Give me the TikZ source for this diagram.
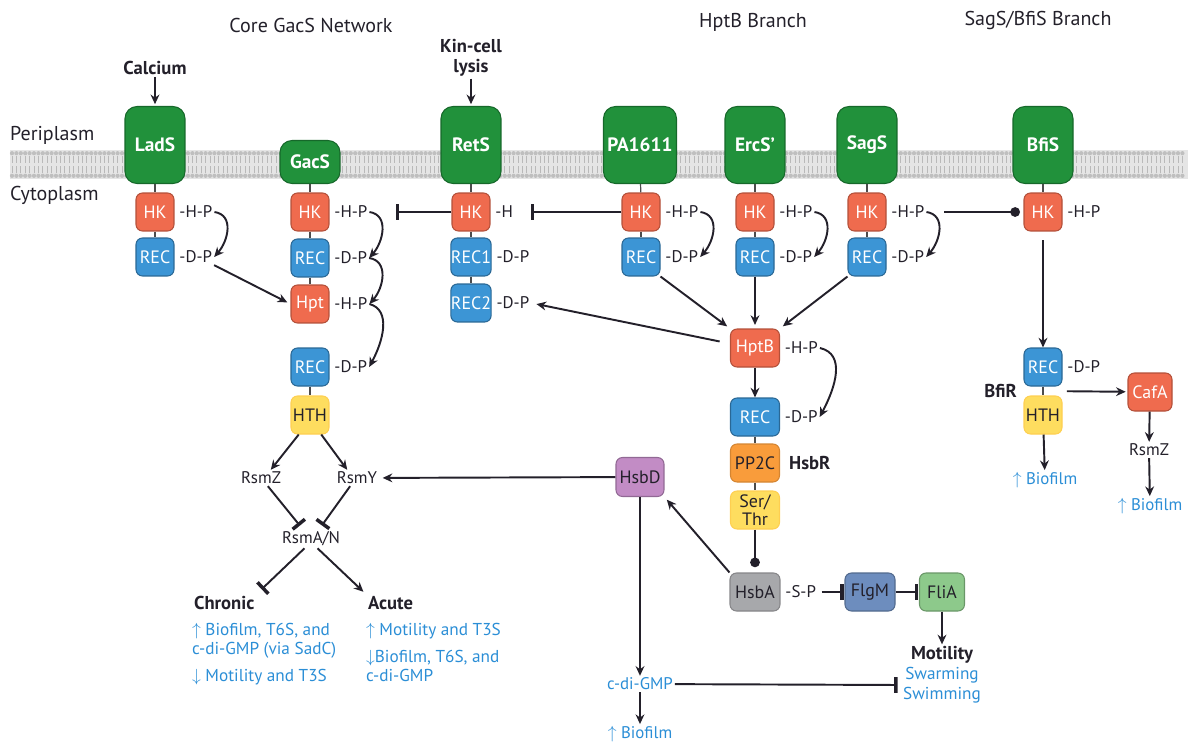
\documentclass[tikz,border=0pt]{standalone}
\usepackage{fontspec}
\setmainfont{PT Sans}
\usepackage{amsmath}
\usetikzlibrary{arrows.meta,positioning}
\definecolor{tmgreen}{HTML}{21913B}
\definecolor{tmdark}{HTML}{16682A}
\definecolor{hkred}{HTML}{EF6B4E}
\definecolor{recblue}{HTML}{3C95D5}
\definecolor{hthyel}{HTML}{FEDD5F}
\definecolor{pporange}{HTML}{F99C3B}
\definecolor{hsbpurple}{HTML}{C28CC5}
\definecolor{hsbgray}{HTML}{A7A8AB}
\definecolor{flgblue}{HTML}{6D8DBE}
\definecolor{fliagreen}{HTML}{8DC98B}
\definecolor{resblue}{HTML}{2B8ED6}
\definecolor{ink}{HTML}{23202A}

\begin{document}
\begin{tikzpicture}[x=0.02cm,y=-0.02cm]
\tikzstyle{every node}+=[inner sep=1pt, text=ink, font=\fontsize{9.6}{11}\selectfont]
\tikzstyle{tm}=[draw=tmdark, fill=tmgreen, line width=0.6pt, rounded corners=2.4mm, minimum width=1.2cm, minimum height=1.54cm, text=white, font=\fontsize{11}{12}\selectfont\bfseries]
\tikzstyle{box}=[draw, line width=0.6pt, rounded corners=1.3mm, minimum width=0.76cm, minimum height=0.76cm, inner sep=0pt, font=\fontsize{10.2}{11}\selectfont]
\tikzstyle{hk}=[box, fill=hkred, draw=hkred!75!black, text=white]
\tikzstyle{rec}=[box, fill=recblue, draw=recblue!70!black, text=white]
\tikzstyle{hth}=[box, fill=hthyel, draw=hthyel!85!orange]
\tikzstyle{pp}=[box, fill=pporange, draw=pporange!85!black]
\tikzstyle{hsbd}=[box, fill=hsbpurple, draw=hsbpurple!75!black]
\tikzstyle{hsba}=[box, fill=hsbgray, draw=hsbgray!80!black]
\tikzstyle{flg}=[box, fill=flgblue, draw=flgblue!75!black]
\tikzstyle{fli}=[box, fill=fliagreen, draw=fliagreen!75!black]
\tikzstyle{lbl}=[right=1.6pt of #1]
\tikzstyle{bld}=[font=\fontsize{10.6}{11.3}\selectfont\bfseries]
\tikzstyle{res}=[text=resblue]
\tikzstyle{hdr}=[font=\fontsize{11.4}{12}\selectfont]
\tikzstyle{stem}=[line width=0.7pt, black!70]
\tikzstyle{act}=[-{Stealth[length=5.5pt,width=5pt]}, line width=1.1pt, ink]
\tikzstyle{inh}=[-{Bar[width=9pt,line width=2pt]}, line width=1.1pt, ink]
\tikzstyle{dotend}=[-{Circle[length=5.5pt]}, line width=1.1pt, ink]
\useasboundingbox (0,0) rectangle (1188,744);
\fill[gray!20] (10,150) rectangle (1188,179);
\foreach \x in {12,16.4,...,1186} {
  \draw[gray!55, line width=0.5pt] (\x,156) -- (\x,163) (\x,166) -- (\x,173);
  \fill[gray!50] (\x,153.2) circle (2.1) (\x,175.8) circle (2.1);
}
\node[hdr] (core) at (311,25) {Core GacS Network};
\node[hdr] (hptbr) at (753,22) {HptB Branch};
\node[hdr] (sagsbr) at (1038,20) {SagS/BfiS Branch};
\node[hdr, anchor=west] (peri) at (8,135) {Periplasm};
\node[hdr, anchor=west] (cyto) at (8,195) {Cytoplasm};
\node[bld] (calc) at (155,68) {Calcium};
\node[bld, align=center] (kin) at (471,58) {Kin-cell\\lysis};

\node[tm] (lads) at (155,145) {LadS};
\node[tm, minimum height=0.86cm] (gacs) at (310,162) {GacS};
\node[tm] (rets) at (471,145) {RetS};
\node[tm, minimum width=1.46cm] (pa) at (640,145) {PA1611};
\node[tm] (ercs) at (755,145) {ErcS’};
\node[tm] (sags) at (867,145) {SagS};
\node[tm] (bfis) at (1043,145) {BfiS};

\node[hk] (ladsHK) at (155,212) {HK};
\node[rec] (ladsREC) at (155,257) {REC};
\node[hk] (gacsHK) at (310,212) {HK};
\node[rec] (gacsREC) at (310,258) {REC};
\node[hk] (gacsHpt) at (310,304) {Hpt};
\node[rec] (gacsREC2) at (310,367) {REC};
\node[hth] (gacsHTH) at (310,415) {HTH};
\node[hk] (retsHK) at (471,212) {HK};
\node[rec, minimum width=0.8cm] (retsREC1) at (471,257) {REC1};
\node[rec, minimum width=0.8cm] (retsREC2) at (471,303) {REC2};
\node[hk] (paHK) at (641,212) {HK};
\node[rec] (paREC) at (641,257) {REC};
\node[hk] (ercsHK) at (755,212) {HK};
\node[rec] (ercsREC) at (755,257) {REC};
\node[hk] (sagsHK) at (867,212) {HK};
\node[rec] (sagsREC) at (867,257) {REC};
\node[hk] (bfisHK) at (1043,212) {HK};
\node[rec] (bfirREC) at (1043,367) {REC};
\node[hth] (bfirHTH) at (1043,415) {HTH};
\coordinate (bfirmid) at (1043,391);
\node[hk, minimum width=0.88cm] (cafa) at (1150,392) {CafA};
\node[hk, minimum width=0.98cm] (hptb) at (755,348) {HptB};
\node[rec, minimum width=0.98cm] (hptbREC) at (755,417) {REC};
\node[pp, minimum width=0.98cm] (pp2c) at (755,463) {PP2C};
\node[hth, minimum width=0.98cm, align=center, font=\fontsize{10.2}{10.4}\selectfont] (serthr) at (755,510) {Ser/\\Thr};
\node[hsbd, minimum width=0.96cm, minimum height=0.78cm] (hsbd) at (640,477) {HsbD};
\node[hsba, minimum width=1cm] (hsba) at (755,592) {HsbA};
\node[flg, minimum width=1cm] (flgm) at (870,592) {FlgM};
\node[fli, minimum width=0.9cm] (flia) at (942,592) {FliA};

\node[lbl=ladsHK] (ladsHP) {-H-P};
\node[lbl=ladsREC] (ladsDP) {-D-P};
\node[lbl=gacsHK] (gacsHP) {-H-P};
\node[lbl=gacsREC] (gacsDP) {-D-P};
\node[lbl=gacsHpt] (gacsHptHP) {-H-P};
\node[lbl=gacsREC2] (gacsREC2DP) {-D-P};
\node[lbl=retsHK] (retsH) {-H};
\node[lbl=retsREC1] (retsREC1DP) {-D-P};
\node[lbl=retsREC2] (retsREC2DP) {-D-P};
\node[lbl=paHK] (paHP) {-H-P};
\node[lbl=paREC] (paDP) {-D-P};
\node[lbl=ercsHK] (ercsHP) {-H-P};
\node[lbl=ercsREC] (ercsDP) {-D-P};
\node[lbl=sagsHK] (sagsHP) {-H-P};
\node[lbl=sagsREC] (sagsDP) {-D-P};
\node[lbl=bfisHK] (bfisHP) {-H-P};
\node[lbl=bfirREC] (bfirDP) {-D-P};
\node[lbl=hptb] (hptbHP) {-H-P};
\node[lbl=hptbREC] (hptbDP) {-D-P};
\node[lbl=hsba] (hsbaSP) {-S-P};
\node[bld, right=4pt of pp2c] (hsbr) {HsbR};
\node[bld, anchor=east] (bfir) at (1019,391) {BfiR};

\node (rsmz) at (261,478) {RsmZ};
\node (rsmy) at (357,478) {RsmY};
\node (rsma) at (311,539) {RsmA/N};
\node[bld, anchor=west] (chron) at (192,603) {Chronic};
\node[bld, anchor=west] (acute) at (366,603) {Acute};
\node[res, anchor=north west, align=left, font=\fontsize{9.8}{10.8}\selectfont] (chronres) at (190,621) {$\uparrow$ Biofilm, T6S, and\\c-di-GMP (via SadC)\\[4.5pt]$\downarrow$ Motility and T3S};
\node[res, anchor=north west, align=left, font=\fontsize{9.8}{10.8}\selectfont] (acuteres) at (364,621) {$\uparrow$ Motility and T3S\\[4.5pt]$\downarrow$Biofilm, T6S, and\\c-di-GMP};
\node[res] (bfirbio) at (1045,480) {$\uparrow$ Biofilm};
\node (rsmzB) at (1149,450) {RsmZ};
\node[res] (cafabio) at (1150,506) {$\uparrow$ Biofilm};
\node[res] (cdg) at (640,684) {c-di-GMP};
\node[res] (cdgbio) at (640,734) {$\uparrow$ Biofilm};
\node[bld] (mot) at (942,655) {Motility};
\node[res, align=center, font=\fontsize{9.8}{11.3}\selectfont] (swim) at (942,685) {Swarming\\Swimming};

\draw[stem] (lads) -- (ladsHK);
\draw[stem] (ladsHK) -- (ladsREC);
\draw[stem] (gacs) -- (gacsHK);
\draw[stem] (gacsHK) -- (gacsREC);
\draw[stem] (gacsREC) -- (gacsHpt);
\draw[stem] (gacsREC2) -- (gacsHTH);
\draw[stem] (rets) -- (retsHK);
\draw[stem] (retsHK) -- (retsREC1);
\draw[stem] (retsREC1) -- (retsREC2);
\draw[stem] (pa) -- (paHK);
\draw[stem] (paHK) -- (paREC);
\draw[stem] (ercs) -- (ercsHK);
\draw[stem] (ercsHK) -- (ercsREC);
\draw[stem] (sags) -- (sagsHK);
\draw[stem] (sagsHK) -- (sagsREC);
\draw[stem] (bfis) -- (bfisHK);
\draw[stem] (bfirREC) -- (bfirHTH);
\draw[stem] (hptbREC) -- (pp2c);
\draw[stem] (pp2c) -- (serthr);

\draw[act, shorten >=1pt] (calc) -- (lads);
\draw[act, shorten >=1pt] (kin) -- (rets);

\draw[act] (ladsHP.east) .. controls +(20,3) and +(14,-16) .. (ladsDP.east);
\draw[act] (gacsHP.east) .. controls +(20,3) and +(14,-16) .. (gacsDP.east);
\draw[act] (gacsDP.east) .. controls +(20,3) and +(14,-16) .. (gacsHptHP.east);
\draw[act] (gacsHptHP.east) .. controls +(22,6) and +(14,-26) .. (gacsREC2DP.east);
\draw[act] (paHP.east) .. controls +(20,3) and +(14,-16) .. (paDP.east);
\draw[act] (ercsHP.east) .. controls +(20,3) and +(14,-16) .. (ercsDP.east);
\draw[act] (sagsHP.east) .. controls +(20,3) and +(14,-16) .. (sagsDP.east);
\draw[act] (hptbHP.east) .. controls +(26,6) and +(16,-30) .. (hptbDP.east);

\draw[inh] (retsHK) -- ([xshift=15pt]gacsHP.east);
\draw[inh] (paHK) -- ([xshift=9pt]retsH.east);
\draw[dotend, shorten <=10pt, shorten >=2pt] (sagsHP.east) -- (bfisHK);

\draw[act, shorten >=2pt] (ladsDP.south east) -- (gacsHpt.west);
\draw[act, shorten >=2pt] (paREC.south east) -- (hptb.north west);
\draw[act, shorten >=2pt] (ercsREC) -- (hptb);
\draw[act, shorten >=2pt] (sagsREC.south west) -- (hptb.north east);
\draw[act, shorten <=6pt, shorten >=3pt] (hptb.170) -- (retsREC2DP.east);
\draw[act] (hptb) -- (hptbREC);

\draw[act, shorten <=5pt] (bfisHK) -- (bfirREC);
\draw[act, shorten <=13.6pt, shorten >=1pt] (bfirmid) -- (cafa);
\draw[act] (bfirHTH) -- (bfirbio);
\draw[act] (cafa) -- (rsmzB);
\draw[act] (rsmzB) -- (cafabio);

\draw[dotend, shorten >=3pt] (serthr) -- (hsba);
\draw[act, shorten >=2pt] (hsba.north west) -- (hsbd.south east);
\draw[act, shorten >=2pt] (hsbd) -- (rsmy);
\draw[act] (hsbd) -- (cdg);
\draw[act] (cdg) -- (cdgbio);
\draw[inh, shorten >=2pt] (cdg) -- (swim.west);
\draw[inh, shorten <=2pt, shorten >=0.5pt] (hsbaSP.east) -- (flgm);
\draw[inh, shorten >=0.5pt] (flgm) -- (flia);
\draw[act] (flia) -- (mot);

\draw[act] (gacsHTH.-120) -- (rsmz.40);
\draw[act] (gacsHTH.-60) -- (rsmy.140);
\draw[inh, shorten >=3pt] (rsmz.-50) -- (rsma.130);
\draw[inh, shorten >=3pt] (rsmy.-130) -- (rsma.50);
\draw[inh, shorten >=4pt] (rsma.-125) -- (chron.north east);
\draw[act, shorten >=2pt] (rsma.-55) -- (acute.north west);
\end{tikzpicture}
\end{document}
